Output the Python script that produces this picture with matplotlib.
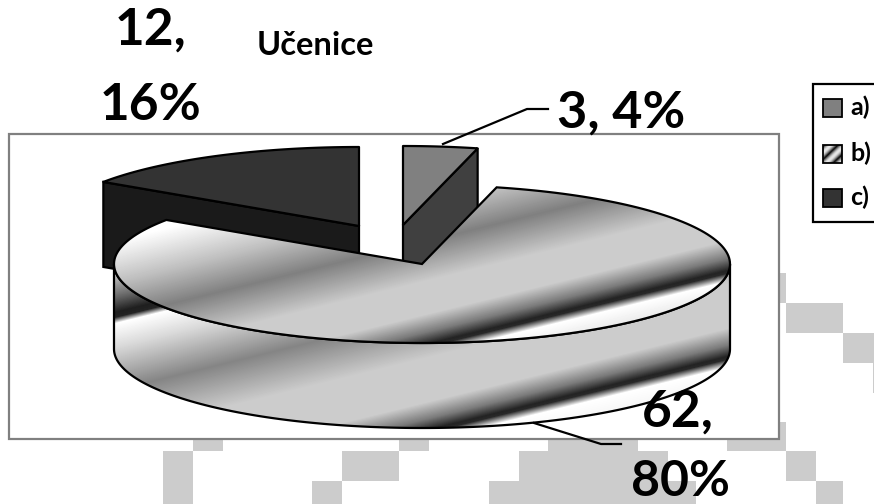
import matplotlib
matplotlib.use("Agg")
import matplotlib.pyplot as plt
import numpy as np
from matplotlib.patches import Polygon, Rectangle

plt.rcParams['font.family'] = ['Lato', 'DejaVu Sans']

categories = ["a)", "b)", "c)"]
values = [3, 62, 12]
percents = [4, 80, 16]
top_colors = ["#808080", "#cccccc", "#333333"]
wall_colors = ["#404040", "#cccccc", "#1a1a1a"]
title = "Učenice"

# pie geometry in image pixels
rx, ry, depth = 308, 79, 85
centers = [(403, 225), (422, 264), (359, 226)]

# gradient stops, t = y + 0.245 x
top_stops = [255, 268, 310, 345, 385, 418, 436, 448, 451, 459, 480, 700]
top_grays = [1.0, 1.0, .75, .50, .80, .80, .48, .14, .16, 1.0, .90, .85]
side_stops = [300, 325, 340, 345, 351, 375, 418, 462, 506, 523, 534, 537, 545, 590, 700]
side_grays = [.80, .40, .12, .14, 1.0, .85, .52, .80, .80, .48, .14, .16, 1.0, .90, .87]

# background tiles x0, y0, x1, y1
tiles = [(780, 273, 786, 303), (786, 303, 843, 333), (843, 333, 874, 363),
         (873, 363, 874, 393), (780, 422, 786, 451), (727, 440, 786, 451),
         (786, 451, 816, 481), (816, 481, 843, 504), (193, 440, 223, 451),
         (163, 451, 193, 504), (342, 451, 399, 481), (312, 481, 342, 504),
         (399, 440, 429, 451), (548, 440, 638, 451), (519, 451, 668, 481),
         (489, 481, 696, 504)]

fig = plt.figure(figsize=(8.74, 5.04), dpi=100)
ax = fig.add_axes([0, 0, 1, 1])
ax.set_xlim(0, 874)
ax.set_ylim(504, 0)
ax.axis("off")

for x0, y0, x1, y1 in tiles:
    ax.add_patch(Rectangle((x0, y0), x1 - x0, y1 - y0, fc="#cccccc", ec="none", zorder=1))

ax.add_patch(Rectangle((9, 134), 770, 305, fc="white", ec="#808080", lw=1.6, zorder=2))


def arc(center, a0, a1, dy=0):
    th = np.radians(np.linspace(a0, a1, 200))
    return np.column_stack([center[0] + rx * np.sin(th), center[1] - ry * np.cos(th) + dy])


def gradient(path_patch, stops, grays, z):
    xx, yy = np.meshgrid(np.arange(0, 874), np.arange(0, 504))
    img = np.interp(yy + 0.245 * xx, stops, grays)
    im = ax.imshow(img, cmap="gray", vmin=0, vmax=1, extent=(0, 874, 504, 0),
                   aspect="auto", interpolation="bilinear", zorder=z)
    im.set_clip_path(path_patch)


angles = np.cumsum([0] + values) / sum(values) * 360

# exploded wedges a and c, behind b
for i in [0, 2]:
    a0, a1 = angles[i], angles[i + 1]
    c = centers[i]
    edge_a = a1 if i == 0 else a0
    p = arc(c, edge_a, edge_a, 0)[0]
    ax.add_patch(Polygon([c, p, (p[0], p[1] + depth), (c[0], c[1] + depth)], closed=True,
                         fc=wall_colors[i], ec="black", lw=1.6, zorder=3))
    top = np.vstack([[c], arc(c, a0, a1)])
    ax.add_patch(Polygon(top, closed=True, fc=top_colors[i], ec="black", lw=1.6,
                         joinstyle="round", zorder=4))

# big wedge b
c = centers[1]
side = np.vstack([arc(c, 90, 270), arc(c, 270, 90, depth)])
side_patch = Polygon(side, closed=True, fc="none", ec="black", lw=1.6, zorder=7)
ax.add_patch(side_patch)
gradient(side_patch, side_stops, side_grays, 6)
top = np.vstack([[c], arc(c, angles[1], angles[2])])
top_patch = Polygon(top, closed=True, fc="none", ec="black", lw=1.6, zorder=9)
ax.add_patch(top_patch)
gradient(top_patch, top_stops, top_grays, 8)

# leader lines
ax.plot([443, 527, 548], [144, 109, 109], color="black", lw=1.6, zorder=10)
ax.plot([534, 601, 621], [423, 444, 444], color="black", lw=1.6, zorder=10)

# data labels
ax.text(621, 128, f"{values[0]}, {percents[0]}%", fontsize=37.5, fontweight="bold",
        ha="center", va="baseline", zorder=11)
ax.text(151, 45, f"{values[2]},", fontsize=37, fontweight="bold", ha="center", va="baseline", zorder=11)
ax.text(151, 120, f"{percents[2]}%", fontsize=37, fontweight="bold", ha="center", va="baseline", zorder=11)
ax.text(678, 427, f"{values[1]},", fontsize=37, fontweight="bold", ha="center", va="baseline", zorder=11)
ax.text(680, 496, f"{percents[1]}%", fontsize=36, fontweight="bold", ha="center", va="baseline", zorder=11)
ax.text(315, 55, title, fontsize=23.5, fontweight="bold", ha="center", va="baseline", zorder=11)

# legend
ax.add_patch(Rectangle((813, 84), 70, 138, fc="white", ec="black", lw=1.6, zorder=12))
ys = [108, 154, 198]
for i, name in enumerate(categories):
    box = Rectangle((823, ys[i] - 9), 19, 18, fc=top_colors[i] if i != 1 else "none",
                    ec="black", lw=1.3, zorder=14)
    ax.add_patch(box)
    if i == 1:
        xx, yy = np.meshgrid(np.linspace(0, 1, 20), np.linspace(0, 1, 20))
        im = ax.imshow(np.abs(np.sin((xx + yy) * 4)), cmap="gray", vmin=0, vmax=1.1,
                       extent=(823, 842, ys[i] + 9, ys[i] - 9), aspect="auto", zorder=13)
        im.set_clip_path(box)
    ax.text(850, ys[i] + 7, name, fontsize=18, fontweight="bold", ha="left", va="baseline", zorder=14)

ax.set_xlim(0, 874)
ax.set_ylim(504, 0)
fig.savefig("out.png", dpi=100)
